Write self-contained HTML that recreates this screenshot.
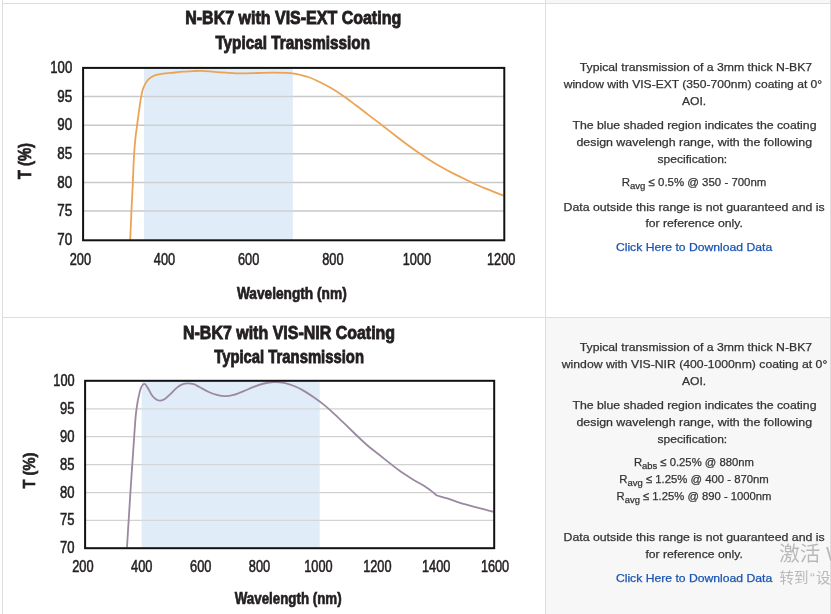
<!DOCTYPE html>
<html lang="en">
<head>
<meta charset="utf-8">
<title>N-BK7 Coating Typical Transmission</title>
<style>
html,body{margin:0;padding:0;background:#fff;}
body{width:831px;height:614px;overflow:hidden;position:relative;font-family:"Liberation Sans","Noto Sans CJK SC",sans-serif;}
.cell{position:absolute;}
.grey{background:#f7f7f7;}
.bd{position:absolute;background:#dedede;}
svg{position:absolute;left:0;top:0;}
svg text{font-family:"Liberation Sans","Noto Sans CJK SC",sans-serif;}
.wm{position:absolute;color:#b9b9b9;white-space:nowrap;font-family:"Liberation Sans","Noto Sans CJK SC",sans-serif;}
</style>
</head>
<body>
<div class="cell grey" style="left:546px;top:0;width:284px;height:3px"></div>
<div class="cell grey" style="left:546px;top:318px;width:284px;height:296px"></div>
<div class="bd" style="left:2px;top:3px;width:829px;height:1px"></div>
<div class="bd" style="left:2px;top:317px;width:829px;height:1px"></div>
<div class="bd" style="left:2px;top:0;width:1px;height:614px"></div>
<div class="bd" style="left:545px;top:0;width:1px;height:614px"></div>
<div class="bd" style="left:830px;top:0;width:1px;height:614px"></div>
<svg width="831" height="614" viewBox="0 0 831 614">
<g id="charts">
<rect x="144" y="67.9" width="148.8" height="172.4" fill="#e0ecf7"/>
<line x1="83.1" x2="504.3" y1="96.6" y2="96.6" stroke="#c9c9c9" stroke-width="1.5"/>
<line x1="83.1" x2="504.3" y1="125.2" y2="125.2" stroke="#c9c9c9" stroke-width="1.5"/>
<line x1="83.1" x2="504.3" y1="153.8" y2="153.8" stroke="#c9c9c9" stroke-width="1.5"/>
<line x1="83.1" x2="504.3" y1="182.5" y2="182.5" stroke="#c9c9c9" stroke-width="1.5"/>
<line x1="83.1" x2="504.3" y1="211.1" y2="211.1" stroke="#c9c9c9" stroke-width="1.5"/>
<rect x="144" y="67.9" width="148.8" height="172.4" fill="#e0ecf7" opacity="0.25"/>
<path d="M130.2,240.0 C130.4,235.3 131.0,221.3 131.4,211.9 C131.8,202.5 132.4,193.2 132.8,183.6 C133.2,174.0 133.6,162.1 134.1,154.3 C134.6,146.5 135.1,141.4 135.6,136.7 C136.1,132.0 136.6,129.0 137.0,126.0 C137.4,123.0 137.6,121.2 138.0,118.5 C138.4,115.8 138.7,113.0 139.2,109.6 C139.7,106.2 140.3,101.6 140.9,98.2 C141.5,94.8 142.2,91.6 143.0,89.1 C143.8,86.6 144.5,85.1 145.5,83.4 C146.5,81.7 147.6,80.0 148.9,78.8 C150.2,77.6 151.8,76.8 153.5,76.0 C155.2,75.2 157.1,74.8 159.2,74.3 C161.3,73.8 163.4,73.6 166.0,73.3 C168.6,73.0 172.2,72.8 175.0,72.5 C177.8,72.2 179.7,71.9 182.6,71.7 C185.5,71.5 189.0,71.2 192.2,71.1 C195.4,71.0 198.1,70.8 201.8,70.9 C205.5,71.0 209.9,71.5 214.4,71.8 C218.9,72.1 224.1,72.6 228.9,72.9 C233.7,73.2 238.5,73.4 243.3,73.4 C248.1,73.4 253.0,73.1 257.8,73.0 C262.6,72.9 267.4,72.6 272.2,72.6 C277.0,72.6 283.0,72.6 286.6,72.8 C290.2,73.0 291.5,73.2 293.9,73.6 C296.3,74.0 298.7,74.4 301.1,75.0 C303.5,75.6 305.7,76.1 308.3,77.0 C310.9,77.9 312.9,78.8 316.5,80.5 C320.1,82.2 325.3,84.8 329.7,87.3 C334.1,89.8 338.6,92.7 343.0,95.7 C347.4,98.7 351.8,102.2 356.2,105.5 C360.6,108.8 365.0,112.2 369.4,115.6 C373.8,119.0 378.3,122.3 382.7,125.7 C387.1,129.1 391.5,132.6 395.9,136.0 C400.3,139.4 404.7,142.8 409.1,146.0 C413.5,149.2 418.0,152.3 422.4,155.3 C426.8,158.3 431.2,161.2 435.6,163.8 C440.0,166.5 444.5,168.9 448.9,171.2 C453.3,173.5 457.7,175.6 462.1,177.8 C466.5,180.0 470.9,182.2 475.3,184.2 C479.7,186.2 483.9,187.8 488.6,189.7 C493.3,191.6 501.0,194.6 503.5,195.6" fill="none" stroke="#eca354" stroke-width="1.8" stroke-linejoin="round"/>
<rect x="83.1" y="67.9" width="421.20000000000005" height="172.4" fill="none" stroke="#111" stroke-width="2"/>
<text x="50.3" y="73.0" font-size="16" font-weight="400" fill="#231f20" textLength="21.9" lengthAdjust="spacingAndGlyphs" stroke="#231f20" stroke-width="0.55">100</text>
<text x="57.3" y="101.6" font-size="16" font-weight="400" fill="#231f20" textLength="14.9" lengthAdjust="spacingAndGlyphs" stroke="#231f20" stroke-width="0.55">95</text>
<text x="57.3" y="130.2" font-size="16" font-weight="400" fill="#231f20" textLength="14.9" lengthAdjust="spacingAndGlyphs" stroke="#231f20" stroke-width="0.55">90</text>
<text x="57.3" y="158.8" font-size="16" font-weight="400" fill="#231f20" textLength="14.9" lengthAdjust="spacingAndGlyphs" stroke="#231f20" stroke-width="0.55">85</text>
<text x="57.3" y="187.5" font-size="16" font-weight="400" fill="#231f20" textLength="14.9" lengthAdjust="spacingAndGlyphs" stroke="#231f20" stroke-width="0.55">80</text>
<text x="57.3" y="216.1" font-size="16" font-weight="400" fill="#231f20" textLength="14.9" lengthAdjust="spacingAndGlyphs" stroke="#231f20" stroke-width="0.55">75</text>
<text x="57.3" y="244.7" font-size="16" font-weight="400" fill="#231f20" textLength="14.9" lengthAdjust="spacingAndGlyphs" stroke="#231f20" stroke-width="0.55">70</text>
<text x="69.7" y="264.9" font-size="16.4" font-weight="400" fill="#231f20" textLength="21.3" lengthAdjust="spacingAndGlyphs" stroke="#231f20" stroke-width="0.55">200</text>
<text x="153.8" y="264.9" font-size="16.4" font-weight="400" fill="#231f20" textLength="21.3" lengthAdjust="spacingAndGlyphs" stroke="#231f20" stroke-width="0.55">400</text>
<text x="238.0" y="264.9" font-size="16.4" font-weight="400" fill="#231f20" textLength="21.3" lengthAdjust="spacingAndGlyphs" stroke="#231f20" stroke-width="0.55">600</text>
<text x="322.2" y="264.9" font-size="16.4" font-weight="400" fill="#231f20" textLength="21.3" lengthAdjust="spacingAndGlyphs" stroke="#231f20" stroke-width="0.55">800</text>
<text x="402.8" y="264.9" font-size="16.4" font-weight="400" fill="#231f20" textLength="28.3" lengthAdjust="spacingAndGlyphs" stroke="#231f20" stroke-width="0.55">1000</text>
<text x="487.0" y="264.9" font-size="16.4" font-weight="400" fill="#231f20" textLength="28.3" lengthAdjust="spacingAndGlyphs" stroke="#231f20" stroke-width="0.55">1200</text>
<text x="185.2" y="24.1" font-size="18.7" font-weight="700" fill="#231f20" textLength="216.0" lengthAdjust="spacingAndGlyphs" stroke="#231f20" stroke-width="0.9">N-BK7 with VIS-EXT Coating</text>
<text x="215.4" y="49.0" font-size="18.7" font-weight="700" fill="#231f20" textLength="154.6" lengthAdjust="spacingAndGlyphs" stroke="#231f20" stroke-width="0.9">Typical Transmission</text>
<text x="236.9" y="298.6" font-size="16.5" font-weight="700" fill="#231f20" textLength="109.8" lengthAdjust="spacingAndGlyphs" stroke="#231f20" stroke-width="0.7">Wavelength (nm)</text>
<text x="0" y="0" font-size="18" font-weight="700" fill="#231f20" textLength="36.2" lengthAdjust="spacingAndGlyphs" stroke="#231f20" stroke-width="0.7" transform="translate(31,179.2) rotate(-90)">T (%)</text>
<rect x="141.7" y="380.8" width="177.9" height="167.40000000000003" fill="#e0ecf7"/>
<line x1="85.1" x2="494.2" y1="408.9" y2="408.9" stroke="#d2d2d2" stroke-width="1.25"/>
<line x1="85.1" x2="494.2" y1="436.7" y2="436.7" stroke="#d2d2d2" stroke-width="1.25"/>
<line x1="85.1" x2="494.2" y1="464.6" y2="464.6" stroke="#d2d2d2" stroke-width="1.25"/>
<line x1="85.1" x2="494.2" y1="492.5" y2="492.5" stroke="#d2d2d2" stroke-width="1.25"/>
<line x1="85.1" x2="494.2" y1="520.3" y2="520.3" stroke="#d2d2d2" stroke-width="1.25"/>
<rect x="141.7" y="380.8" width="177.9" height="167.40000000000003" fill="#e0ecf7" opacity="0.25"/>
<path d="M127.0,547.5 C127.3,543.1 128.0,530.2 128.6,521.3 C129.2,512.4 129.7,503.6 130.3,494.1 C130.9,484.6 131.6,474.3 132.3,464.4 C133.0,454.5 133.7,442.9 134.3,434.7 C134.9,426.4 135.3,420.3 135.8,414.9 C136.3,409.5 137.0,405.6 137.5,402.5 C138.0,399.4 138.3,398.3 138.8,396.0 C139.3,393.7 139.9,390.7 140.6,388.8 C141.3,386.9 142.4,385.1 143.2,384.4 C144.0,383.7 144.6,383.7 145.4,384.4 C146.2,385.1 147.2,387.0 148.3,388.8 C149.4,390.6 150.6,393.5 151.9,395.3 C153.2,397.1 154.8,398.7 156.2,399.6 C157.6,400.5 159.1,400.7 160.5,400.6 C161.9,400.5 163.2,400.0 164.9,398.9 C166.6,397.8 168.8,395.6 170.7,393.8 C172.6,392.0 174.5,389.7 176.4,388.1 C178.3,386.5 180.3,385.2 182.2,384.4 C184.1,383.6 186.1,383.3 188.0,383.3 C189.9,383.3 191.9,383.6 193.8,384.2 C195.7,384.8 197.1,385.8 199.5,387.0 C201.9,388.2 205.3,390.4 208.2,391.7 C211.1,393.0 214.1,394.2 216.9,394.9 C219.7,395.6 222.4,396.1 225.2,396.1 C228.0,396.1 230.5,395.7 233.6,394.9 C236.7,394.1 240.3,392.5 243.7,391.1 C247.1,389.8 250.4,388.1 253.8,386.8 C257.2,385.5 260.5,384.3 263.9,383.5 C267.3,382.7 270.6,382.2 274.0,382.1 C277.4,382.0 280.7,382.2 284.1,382.8 C287.5,383.4 290.8,384.6 294.2,386.0 C297.6,387.4 300.9,389.1 304.3,391.1 C307.7,393.1 311.1,395.4 314.5,397.8 C317.9,400.2 321.2,402.6 324.6,405.4 C328.0,408.1 331.3,411.2 334.7,414.3 C338.1,417.4 341.3,420.5 344.8,423.9 C348.3,427.3 352.0,430.9 355.7,434.5 C359.4,438.1 363.4,441.9 367.2,445.2 C371.0,448.5 374.8,451.3 378.6,454.3 C382.4,457.3 386.2,460.4 390.0,463.4 C393.8,466.4 397.6,469.4 401.4,472.1 C405.2,474.8 409.1,477.2 412.9,479.5 C416.7,481.8 421.2,484.0 424.3,485.9 C427.4,487.8 429.1,489.3 431.2,490.9 C433.3,492.5 435.9,494.7 436.9,495.5 L436.9,495.5 C438.6,496.0 443.6,497.3 447.2,498.4 C450.8,499.5 454.8,501.1 458.6,502.3 C462.4,503.5 466.2,504.6 470.0,505.7 C473.8,506.8 477.6,507.7 481.5,508.7 C485.4,509.7 491.5,511.4 493.5,511.9" fill="none" stroke="#9b89a2" stroke-width="1.8" stroke-linejoin="round"/>
<rect x="85.1" y="380.8" width="409.1" height="167.40000000000003" fill="none" stroke="#111" stroke-width="2"/>
<text x="53.3" y="386.0" font-size="15.8" font-weight="400" fill="#231f20" textLength="21.3" lengthAdjust="spacingAndGlyphs" stroke="#231f20" stroke-width="0.55">100</text>
<text x="60.1" y="413.9" font-size="15.8" font-weight="400" fill="#231f20" textLength="14.5" lengthAdjust="spacingAndGlyphs" stroke="#231f20" stroke-width="0.55">95</text>
<text x="60.1" y="441.7" font-size="15.8" font-weight="400" fill="#231f20" textLength="14.5" lengthAdjust="spacingAndGlyphs" stroke="#231f20" stroke-width="0.55">90</text>
<text x="60.1" y="469.6" font-size="15.8" font-weight="400" fill="#231f20" textLength="14.5" lengthAdjust="spacingAndGlyphs" stroke="#231f20" stroke-width="0.55">85</text>
<text x="60.1" y="497.5" font-size="15.8" font-weight="400" fill="#231f20" textLength="14.5" lengthAdjust="spacingAndGlyphs" stroke="#231f20" stroke-width="0.55">80</text>
<text x="60.1" y="525.3" font-size="15.8" font-weight="400" fill="#231f20" textLength="14.5" lengthAdjust="spacingAndGlyphs" stroke="#231f20" stroke-width="0.55">75</text>
<text x="60.1" y="553.2" font-size="15.8" font-weight="400" fill="#231f20" textLength="14.5" lengthAdjust="spacingAndGlyphs" stroke="#231f20" stroke-width="0.55">70</text>
<text x="72.2" y="571.5" font-size="15.9" font-weight="400" fill="#231f20" textLength="21.4" lengthAdjust="spacingAndGlyphs" stroke="#231f20" stroke-width="0.55">200</text>
<text x="131.1" y="571.5" font-size="15.9" font-weight="400" fill="#231f20" textLength="21.4" lengthAdjust="spacingAndGlyphs" stroke="#231f20" stroke-width="0.55">400</text>
<text x="190.0" y="571.5" font-size="15.9" font-weight="400" fill="#231f20" textLength="21.4" lengthAdjust="spacingAndGlyphs" stroke="#231f20" stroke-width="0.55">600</text>
<text x="248.8" y="571.5" font-size="15.9" font-weight="400" fill="#231f20" textLength="21.4" lengthAdjust="spacingAndGlyphs" stroke="#231f20" stroke-width="0.55">800</text>
<text x="304.3" y="571.5" font-size="15.9" font-weight="400" fill="#231f20" textLength="28.3" lengthAdjust="spacingAndGlyphs" stroke="#231f20" stroke-width="0.55">1000</text>
<text x="363.2" y="571.5" font-size="15.9" font-weight="400" fill="#231f20" textLength="28.3" lengthAdjust="spacingAndGlyphs" stroke="#231f20" stroke-width="0.55">1200</text>
<text x="422.0" y="571.5" font-size="15.9" font-weight="400" fill="#231f20" textLength="28.3" lengthAdjust="spacingAndGlyphs" stroke="#231f20" stroke-width="0.55">1400</text>
<text x="480.9" y="571.5" font-size="15.9" font-weight="400" fill="#231f20" textLength="28.3" lengthAdjust="spacingAndGlyphs" stroke="#231f20" stroke-width="0.55">1600</text>
<text x="183.0" y="338.6" font-size="18.0" font-weight="700" fill="#231f20" textLength="212.1" lengthAdjust="spacingAndGlyphs" stroke="#231f20" stroke-width="0.85">N-BK7 with VIS-NIR Coating</text>
<text x="214.2" y="363.1" font-size="18.0" font-weight="700" fill="#231f20" textLength="149.8" lengthAdjust="spacingAndGlyphs" stroke="#231f20" stroke-width="0.85">Typical Transmission</text>
<text x="234.8" y="604.0" font-size="15.6" font-weight="700" fill="#231f20" textLength="106.8" lengthAdjust="spacingAndGlyphs" stroke="#231f20" stroke-width="0.65">Wavelength (nm)</text>
<text x="0" y="0" font-size="17.3" font-weight="700" fill="#231f20" textLength="35.7" lengthAdjust="spacingAndGlyphs" stroke="#231f20" stroke-width="0.65" transform="translate(34.5,488.4) rotate(-90)">T (%)</text>
</g>
<g id="notes" font-size="11.5">
<text x="579.8" y="70.7" textLength="232.3" lengthAdjust="spacingAndGlyphs" fill="#333" stroke="#333" stroke-width="0.25">Typical transmission of a 3mm thick N-BK7</text>
<text x="563.7" y="87.7" textLength="258.5" lengthAdjust="spacingAndGlyphs" fill="#333" stroke="#333" stroke-width="0.25">window with VIS-EXT (350-700nm) coating at 0°</text>
<text x="681.9" y="104.7" textLength="24.3" lengthAdjust="spacingAndGlyphs" fill="#333" stroke="#333" stroke-width="0.25">AOI.</text>
<text x="572.4" y="128.9" textLength="244.1" lengthAdjust="spacingAndGlyphs" fill="#333" stroke="#333" stroke-width="0.25">The blue shaded region indicates the coating</text>
<text x="576.4" y="146.0" textLength="235.7" lengthAdjust="spacingAndGlyphs" fill="#333" stroke="#333" stroke-width="0.25">design wavelengh range, with the following</text>
<text x="657.5" y="162.9" textLength="69.7" lengthAdjust="spacingAndGlyphs" fill="#333" stroke="#333" stroke-width="0.25">specification:</text>
<text x="621.7" y="186.1" textLength="144.7" lengthAdjust="spacingAndGlyphs" fill="#333" stroke="#333" stroke-width="0.25">R<tspan font-size="9.6" dy="3">avg</tspan><tspan dy="-3"> </tspan>≤ 0.5% @ 350 - 700nm</text>
<text x="563.5" y="211.1" textLength="261.1" lengthAdjust="spacingAndGlyphs" fill="#333" stroke="#333" stroke-width="0.25">Data outside this range is not guaranteed and is</text>
<text x="645.4" y="227.3" textLength="97.4" lengthAdjust="spacingAndGlyphs" fill="#333" stroke="#333" stroke-width="0.25">for reference only.</text>
<text x="615.9" y="251.1" textLength="156.3" lengthAdjust="spacingAndGlyphs" fill="#1b55b2" stroke="#1b55b2" stroke-width="0.25">Click Here to Download Data</text>
<text x="579.8" y="350.7" textLength="232.3" lengthAdjust="spacingAndGlyphs" fill="#333" stroke="#333" stroke-width="0.25">Typical transmission of a 3mm thick N-BK7</text>
<text x="561.8" y="367.7" textLength="265.5" lengthAdjust="spacingAndGlyphs" fill="#333" stroke="#333" stroke-width="0.25">window with VIS-NIR (400-1000nm) coating at 0°</text>
<text x="681.9" y="384.7" textLength="24.3" lengthAdjust="spacingAndGlyphs" fill="#333" stroke="#333" stroke-width="0.25">AOI.</text>
<text x="572.4" y="408.5" textLength="244.1" lengthAdjust="spacingAndGlyphs" fill="#333" stroke="#333" stroke-width="0.25">The blue shaded region indicates the coating</text>
<text x="576.4" y="425.5" textLength="235.7" lengthAdjust="spacingAndGlyphs" fill="#333" stroke="#333" stroke-width="0.25">design wavelengh range, with the following</text>
<text x="657.5" y="442.5" textLength="69.7" lengthAdjust="spacingAndGlyphs" fill="#333" stroke="#333" stroke-width="0.25">specification:</text>
<text x="633.9" y="466.2" textLength="120.0" lengthAdjust="spacingAndGlyphs" fill="#333" stroke="#333" stroke-width="0.25">R<tspan font-size="9.6" dy="3">abs</tspan><tspan dy="-3"> </tspan>≤ 0.25% @ 880nm</text>
<text x="619.3" y="483.0" textLength="149.5" lengthAdjust="spacingAndGlyphs" fill="#333" stroke="#333" stroke-width="0.25">R<tspan font-size="9.6" dy="3">avg</tspan><tspan dy="-3"> </tspan>≤ 1.25% @ 400 - 870nm</text>
<text x="616.6" y="499.7" textLength="154.9" lengthAdjust="spacingAndGlyphs" fill="#333" stroke="#333" stroke-width="0.25">R<tspan font-size="9.6" dy="3">avg</tspan><tspan dy="-3"> </tspan>≤ 1.25% @ 890 - 1000nm</text>
<text x="563.5" y="541.2" textLength="261.1" lengthAdjust="spacingAndGlyphs" fill="#333" stroke="#333" stroke-width="0.25">Data outside this range is not guaranteed and is</text>
<text x="645.4" y="558.1" textLength="97.4" lengthAdjust="spacingAndGlyphs" fill="#333" stroke="#333" stroke-width="0.25">for reference only.</text>
<text x="615.9" y="581.7" textLength="156.3" lengthAdjust="spacingAndGlyphs" fill="#1b55b2" stroke="#1b55b2" stroke-width="0.25">Click Here to Download Data</text>
</g>
</svg>
<div class="wm" style="left:779.3px;top:540.7px;font-size:20.5px;line-height:26px">激活 Windows</div>
<div class="wm" style="left:779.5px;top:568.4px;font-size:14.5px;line-height:20px">转到<span style="margin:0 1.2px 0 1.5px">“</span>设置<span style="margin:0 1.2px">”</span>以激活 Windows。</div>
</body>
</html>
